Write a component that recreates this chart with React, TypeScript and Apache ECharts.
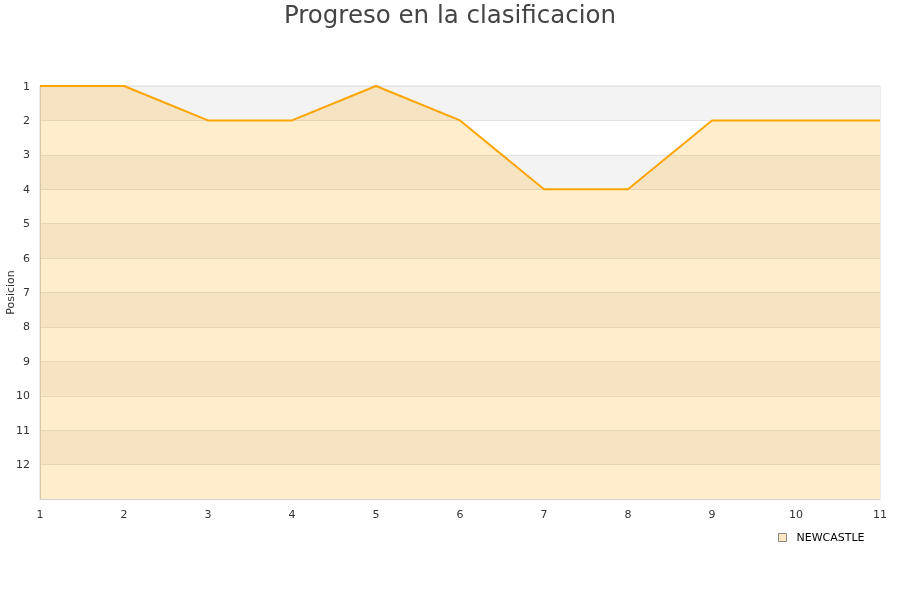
import React, { useEffect, useRef } from "react";
import * as echarts from "echarts";

const jornadas = ["1", "2", "3", "4", "5", "6", "7", "8", "9", "10", "11"];
const posiciones = [1, 1, 2, 2, 1, 2, 4, 4, 2, 2, 2];
const yTicks = [1, 2, 3, 4, 5, 6, 7, 8, 9, 10, 11, 12];
const teamName = "NEWCASTLE";
const titleText = "Progreso en la clasificacion";

export default function App() {
  const ref = useRef<HTMLDivElement>(null);
  useEffect(() => {
    if (!ref.current) return;
    const chart = echarts.init(ref.current, undefined, { renderer: "svg" });
    chart.setOption({
      animation: false,
      title: {
        text: titleText,
        left: "center",
        top: 2,
        padding: 0,
        textStyle: {
          fontFamily: "DejaVu Sans",
          fontSize: 24.5,
          fontWeight: "normal",
          color: "#444",
        },
      },
      grid: {
        left: 40,
        right: 20,
        top: 86,
        bottom: 101,
        containLabel: false,
        outerBoundsMode: "none",
        show: true,
        borderColor: "#d9d9d9",
        borderWidth: 1,
        backgroundColor: "transparent",
      },
      legend: {
        data: [
          {
            name: teamName,
            icon: "rect",
            itemStyle: { color: "#fde7c0", borderColor: "#888", borderWidth: 1 },
          },
        ],
        left: 773,
        top: 527,
        itemWidth: 8,
        itemHeight: 8,
        itemGap: 5,
        textStyle: {
          fontFamily: "DejaVu Sans",
          fontSize: 11,
          color: "#000",
          padding: [0, 0, 0, 5],
        },
      },
      xAxis: {
        type: "category",
        data: jornadas,
        boundaryGap: false,
        axisLine: { lineStyle: { color: "#d0d0d0" } },
        axisTick: { show: false },
        axisLabel: {
          fontFamily: "DejaVu Sans",
          fontSize: 11,
          color: "#333",
          margin: 10,
        },
        splitLine: { show: false },
      },
      yAxis: {
        type: "value",
        inverse: true,
        min: 1,
        max: 13,
        interval: 1,
        name: "Posicion",
        nameLocation: "middle",
        nameGap: 24,
        nameMoveOverlap: false,
        nameRotate: 90,
        nameTextStyle: { fontFamily: "DejaVu Sans", fontSize: 11, color: "#333" },
        axisLine: { show: true, lineStyle: { color: "#d0d0d0" } },
        axisTick: { show: false },
        axisLabel: {
          fontFamily: "DejaVu Sans",
          fontSize: 11,
          color: "#333",
          margin: 10,
          formatter: (v: number) => (yTicks.includes(v) ? String(v) : ""),
        },
        splitLine: { show: true, lineStyle: { color: "#e2e2e2", width: 1 } },
        splitArea: {
          show: true,
          areaStyle: { color: ["#f3f3f3", "#ffffff"] },
        },
      },
      series: [
        {
          name: teamName,
          type: "line",
          data: posiciones,
          symbol: "none",
          lineStyle: { color: "#ffa500", width: 2 },
          itemStyle: { color: "#ffa500" },
          areaStyle: { color: "#ffa500", opacity: 0.2, origin: "end" },
        },
      ],
    });
    return () => chart.dispose();
  }, []);
  return (
    <div
      ref={ref}
      style={{ position: "fixed", left: 0, top: 0, width: 900, height: 600 }}
    />
  );
}
